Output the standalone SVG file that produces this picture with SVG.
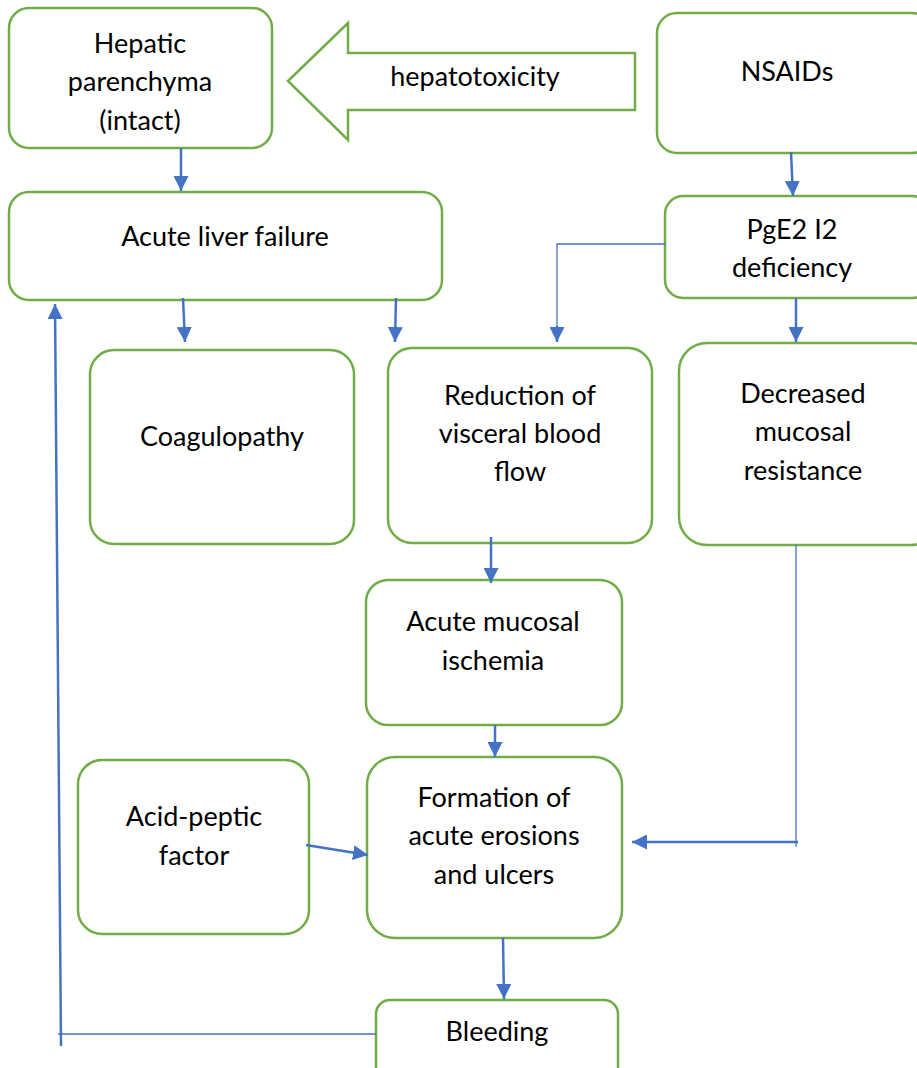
<svg xmlns="http://www.w3.org/2000/svg" width="917" height="1068" viewBox="0 0 917 1068">
<style>
.box{fill:#fff;stroke:#70AD47;stroke-width:2.5}
.t{font-family:Lato,"Liberation Sans",sans-serif;font-size:27px;fill:#000;text-anchor:middle}
.c{stroke:#4472C4;stroke-width:2.5;fill:none}
.thin{stroke:#4472C4;stroke-width:1.3;fill:none}
</style>
<defs>
<marker id="ah" viewBox="0 0 10 10" refX="10" refY="5" markerWidth="15" markerHeight="15" markerUnits="userSpaceOnUse" orient="auto">
<path d="M0,0 L10,5 L0,10 Z" fill="#4472C4"/>
</marker>
</defs>
<g id="hepatic"><rect class="box" x="9" y="8" width="263" height="140" rx="20"/>
<text class="t" x="140" y="53">Hepatic</text><text class="t" x="140" y="91">parenchyma</text><text class="t" x="140" y="130">(intact)</text></g>
<g id="hepatotoxicity"><path class="box" d="M288,81 L348,23 L348,53 L635,53 L635,110 L348,110 L348,140 Z"/>
<text class="t" x="475" y="86">hepatotoxicity</text></g>
<g id="nsaids"><rect class="box" x="657" y="13" width="275" height="140" rx="20"/>
<text class="t" x="787" y="81">NSAIDs</text></g>
<g id="alf"><rect class="box" x="9" y="192" width="433" height="108" rx="20"/>
<text class="t" x="225" y="246">Acute liver failure</text></g>
<g id="pge2"><rect class="box" x="665" y="196" width="265" height="102" rx="18"/>
<text class="t" x="792" y="239">PgE2 I2</text><text class="t" x="792" y="277">deficiency</text></g>
<g id="coag"><rect class="box" x="90" y="350" width="264" height="194" rx="24"/>
<text class="t" x="222" y="446">Coagulopathy</text></g>
<g id="reduction"><rect class="box" x="388" y="348" width="264" height="195" rx="24"/>
<text class="t" x="520" y="405">Reduction of</text><text class="t" x="520" y="443">visceral blood</text><text class="t" x="520" y="481">flow</text></g>
<g id="decreased"><rect class="box" x="679" y="343" width="260" height="202" rx="28"/>
<text class="t" x="803" y="403">Decreased</text><text class="t" x="803" y="441">mucosal</text><text class="t" x="803" y="480">resistance</text></g>
<g id="ischemia"><rect class="box" x="366" y="580" width="256" height="145" rx="22"/>
<text class="t" x="493" y="631">Acute mucosal</text><text class="t" x="493" y="670">ischemia</text></g>
<g id="acid"><rect class="box" x="78" y="760" width="231" height="174" rx="24"/>
<text class="t" x="194" y="826">Acid-peptic</text><text class="t" x="194" y="865">factor</text></g>
<g id="formation"><rect class="box" x="367" y="757" width="255" height="181" rx="28"/>
<text class="t" x="494" y="807">Formation of</text><text class="t" x="494" y="845">acute erosions</text><text class="t" x="494" y="884">and ulcers</text></g>
<g id="bleeding"><rect class="box" x="376" y="1000" width="242" height="90" rx="14"/>
<text class="t" x="497" y="1041">Bleeding</text></g>
<g id="connectors">
<line class="c" x1="181" y1="148" x2="181" y2="191" marker-end="url(#ah)"/>
<line class="c" x1="183" y1="298" x2="185" y2="342" marker-end="url(#ah)"/>
<line class="c" x1="396" y1="298" x2="395" y2="342" marker-end="url(#ah)"/>
<line class="c" x1="791" y1="152" x2="793" y2="196" marker-end="url(#ah)"/>
<line class="c" x1="796" y1="298" x2="796" y2="342" marker-end="url(#ah)"/>
<polyline class="thin" points="665,244 557,244 557,330"/>
<line class="c" x1="557" y1="326" x2="557" y2="342" marker-end="url(#ah)"/>
<line class="c" x1="491" y1="537" x2="491" y2="583" marker-end="url(#ah)"/>
<line class="c" x1="495" y1="725" x2="495" y2="757" marker-end="url(#ah)"/>
<line class="thin" x1="796" y1="545" x2="796" y2="847"/>
<line class="c" x1="798" y1="842" x2="632" y2="842" marker-end="url(#ah)"/>
<line class="c" x1="306" y1="845" x2="368" y2="855" marker-end="url(#ah)"/>
<line class="c" x1="503" y1="938" x2="504" y2="999" marker-end="url(#ah)"/>
<line class="thin" x1="376" y1="1034" x2="58" y2="1034"/>
<line class="c" x1="61" y1="1046" x2="55" y2="304" marker-end="url(#ah)"/>
</g>
</svg>
